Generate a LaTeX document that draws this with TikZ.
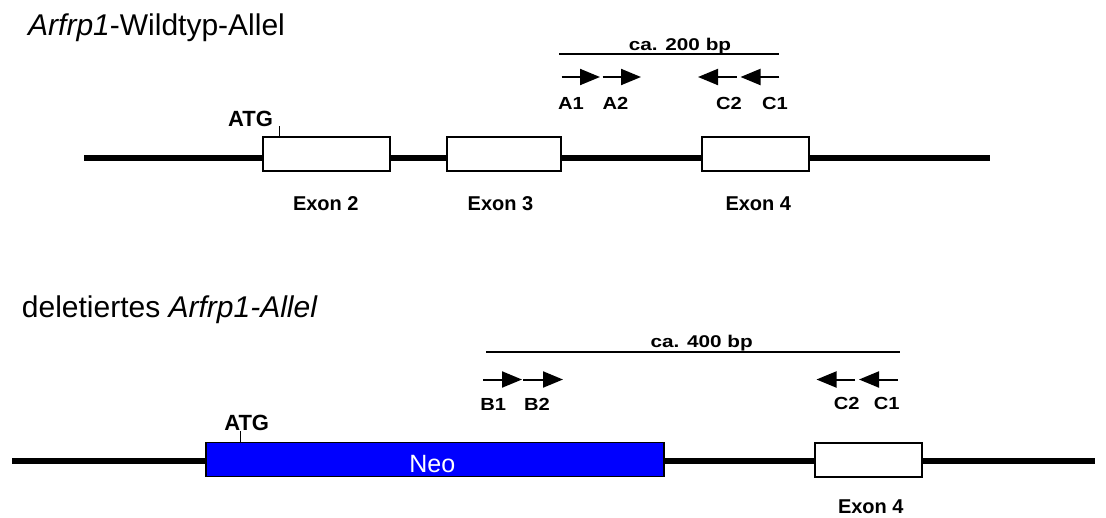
\documentclass[tikz,border=0pt]{standalone}
\usepackage{fontspec}
\usepackage{graphicx}
\setmainfont{Liberation Sans}
\usetikzlibrary{arrows.meta}
\definecolor{neoblue}{RGB}{0,0,255}
\newcommand{\widelbl}[1]{\scalebox{1.15}[1]{#1}}
\newcommand{\spanlbl}[1]{\scalebox{1.22}[1]{#1}}

\begin{document}
\begin{tikzpicture}[x=1pt,y=-1pt,
  gene/.style={line width=6pt},
  exonbox/.style={draw, line width=1.8pt, fill=white, inner sep=0pt, minimum height=34pt},
  neobox/.style={exonbox, fill=neoblue},
  primer/.style={line width=2pt, -{Triangle[length=20pt,width=16pt]}},
  spanline/.style={line width=2pt},
  atgtick/.style={line width=1pt},
  title/.style={anchor=base west, inner sep=0pt, font=\fontsize{30}{36}\selectfont},
  exonlbl/.style={anchor=base, inner sep=0pt, font=\fontsize{20}{24}\selectfont\bfseries},
  atglbl/.style={anchor=base, inner sep=0pt, font=\fontsize{22}{26}\selectfont\bfseries},
  plbl/.style={anchor=base, inner sep=0pt, font=\fontsize{17.5}{21}\selectfont\bfseries},
  slbl/.style={anchor=base, inner sep=0pt, font=\fontsize{17}{21}\selectfont\bfseries},
]
\useasboundingbox (0,0) rectangle (1106,517);

% ---------------- wild-type allele ----------------
\node[title] (t1) at (28,35) {\textit{Arfrp1}-Wildtyp-Allel};

% amplicon span
\coordinate (s1a) at (559,54.3);
\coordinate (s1b) at (779,54.3);
\draw[spanline] (s1a) -- (s1b);
\node[slbl] (s1l) at (680,50.7) {\spanlbl{ca. 200 bp}};

% primers
\coordinate (a1s) at (561.7,77); \coordinate (a1e) at (600,77);
\coordinate (a2s) at (602.7,77); \coordinate (a2e) at (641,77);
\coordinate (c2s) at (736.7,77); \coordinate (c2e) at (698,77);
\coordinate (c1s) at (779.3,77); \coordinate (c1e) at (740.5,77);
\draw[primer] (a1s) -- (a1e);
\draw[primer] (a2s) -- (a2e);
\draw[primer] (c2s) -- (c2e);
\draw[primer] (c1s) -- (c1e);
\node[plbl] (la1) at (571,109.3) {\widelbl{A1}};
\node[plbl] (la2) at (615.5,109.3) {\widelbl{A2}};
\node[plbl] (lc2) at (729,109.3) {\widelbl{C2}};
\node[plbl] (lc1) at (775,109.3) {\widelbl{C1}};

% gene backbone and exons
\coordinate (g1s) at (84,157.5);
\coordinate (g1e) at (990,157.5);
\draw[gene] (g1s) -- (g1e);
\node[exonbox, minimum width=127pt] (ex2) at (326.5,154) {};
\node[exonbox, minimum width=114pt] (ex3) at (504,154) {};
\node[exonbox, minimum width=107pt] (ex4) at (755.5,154) {};

% start codon
\coordinate (atg1) at (279,126);
\draw[atgtick] (atg1) -- (atg1 |- ex2.north);
\node[atglbl] (atg1l) at (250.5,126) {ATG};

\node[exonlbl] (ex2l) at (325.8,210) {Exon 2};
\node[exonlbl] (ex3l) at (500.5,210) {Exon 3};
\node[exonlbl] (ex4l) at (758.3,210) {Exon 4};

% ---------------- deleted allele ----------------
\node[title] (t2) at (21.7,317) {deletiertes \textit{Arfrp1-Allel}};

% amplicon span
\coordinate (s2a) at (486,352.3);
\coordinate (s2b) at (900,352.3);
\draw[spanline] (s2a) -- (s2b);
\node[slbl] (s2l) at (701.7,347.3) {\spanlbl{ca. 400 bp}};

% primers
\coordinate (b1s) at (483.3,379.5); \coordinate (b1e) at (522,379.5);
\coordinate (b2s) at (523.3,379.5); \coordinate (b2e) at (563,379.5);
\coordinate (d2s) at (855,379.5);   \coordinate (d2e) at (816.5,379.5);
\coordinate (d1s) at (897.7,379.5); \coordinate (d1e) at (859,379.5);
\draw[primer] (b1s) -- (b1e);
\draw[primer] (b2s) -- (b2e);
\draw[primer] (d2s) -- (d2e);
\draw[primer] (d1s) -- (d1e);
\node[plbl] (lb1) at (493.3,410) {\widelbl{B1}};
\node[plbl] (lb2) at (537,410) {\widelbl{B2}};
\node[plbl] (ld2) at (846.7,409.5) {\widelbl{C2}};
\node[plbl] (ld1) at (886.7,409.5) {\widelbl{C1}};

% gene backbone, neo cassette and exon
\coordinate (g2s) at (12,460.5);
\coordinate (g2e) at (1095,460.5);
\draw[gene] (g2s) -- (g2e);
\node[neobox, minimum width=458pt] (neo) at (435,459.5) {};
\node[anchor=base, inner sep=0pt, text=white, font=\fontsize{25}{30}\selectfont] (neol) at (432.3,472.7) {Neo};
\node[exonbox, minimum width=107pt] (ex4b) at (868.5,460) {};

% start codon
\coordinate (atg2) at (240,431);
\draw[atgtick] (atg2) -- (atg2 |- neo.north);
\node[atglbl] (atg2l) at (246.7,430) {ATG};

\node[exonlbl] (ex4bl) at (870.8,513.5) {Exon 4};
\end{tikzpicture}
\end{document}
